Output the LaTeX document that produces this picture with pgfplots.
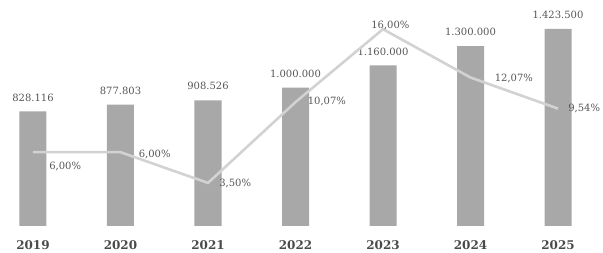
\documentclass[border=0pt]{standalone}
\usepackage{pgfplots}
\pgfplotsset{compat=1.18}
\usepackage{pgfplotstable}
\usepackage{fontspec}
\setmainfont{DejaVu Serif}
\definecolor{barc}{HTML}{A8A8A8}
\definecolor{linec}{HTML}{D2D2D2}
\definecolor{txt}{HTML}{555555}
\definecolor{yrc}{HTML}{4A4A4A}

\pgfplotstableread{
x y lab
0 828.116 828.116
1 877.803 877.803
2 908.526 908.526
3 1000.000 1.000.000
4 1160.000 1.160.000
5 1300.000 1.300.000
6 1423.500 1.423.500
}\bars

\pgfplotstableread{
x y lab dx dy
0 6.00 6,00 15 -14
1 6.00 6,00 17 -2
2 3.50 3,50 10 -1
3 10.07 10,07 11 1
4 16.00 16,00 -13 4
5 12.07 12,07 23 -1
6 9.54 9,54 9 0
}\growth

\begin{document}
\begin{tikzpicture}
\path[use as bounding box] (0,0) rectangle (603pt,252pt);
\begin{axis}[
  at={(0pt,26pt)}, anchor=south west,
  scale only axis, width=603pt, height=226pt,
  xmin=-0.377, xmax=6.514, ymin=0, ymax=1633,
  axis line style={draw=none},
  ytick=\empty,
  xtick={0,1,2,3,4,5,6},
  xticklabels={2019,2020,2021,2022,2023,2024,2025},
  major tick length=0pt,
  xticklabel style={font=\fontsize{12}{13}\selectfont\bfseries, text=yrc, inner sep=0pt, anchor=north, yshift=-14pt},
  clip=false,
]
\addplot[ybar, bar width=27pt, fill=barc, draw=none,
  nodes near coords, point meta=explicit symbolic,
  every node near coord/.append style={font=\fontsize{10}{12}\selectfont, text=txt, inner sep=0pt, anchor=south, yshift=10pt}]
  table[x=x, y=y, meta=lab] {\bars};
\end{axis}
\begin{axis}[
  at={(0pt,26pt)}, anchor=south west,
  scale only axis, width=603pt, height=226pt,
  xmin=-0.377, xmax=6.514, ymin=0, ymax=18.37,
  axis lines=none,
  clip=false,
]
\addplot[linec, line width=2.6pt, mark=none,
  nodes near coords={\pgfplotspointmeta\%}, point meta=explicit symbolic,
  visualization depends on={\thisrow{dx} \as \ddx},
  visualization depends on={\thisrow{dy} \as \ddy},
  every node near coord/.append style={font=\fontsize{10}{12}\selectfont, text=txt, inner sep=0pt, anchor=west, xshift=\ddx, yshift=\ddy}]
  table[x=x, y=y, meta=lab] {\growth};
\end{axis}
\end{tikzpicture}
\end{document}
